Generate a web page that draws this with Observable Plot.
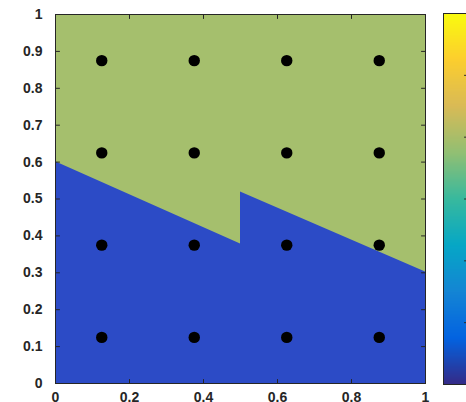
<!DOCTYPE html>
<html><head><meta charset="utf-8">
<script src="https://cdn.jsdelivr.net/npm/d3@7"></script>
<script src="https://cdn.jsdelivr.net/npm/@observablehq/plot@0.6"></script>
<style>
html,body{margin:0;padding:0;overflow:hidden;background:#fff;width:466px;height:402px}
#wrap{position:relative;width:466px;height:402px;overflow:hidden}
#main{position:absolute;left:0;top:0}
#cb{position:absolute;left:443px;top:0;width:40px}
svg{max-width:none !important}
</style></head>
<body><div id="wrap"><div id="main"></div><div id="cb"></div></div>
<script>
// decision boundary (class 1 below, class 2 above)
const boundaryX = [0, 0.5, 0.5, 1];
const boundaryY = [0.601, 0.378, 0.519, 0.302];
// grid of sample points
const pointCoords = [0.125, 0.375, 0.625, 0.875];
// axes
const xTicks = [0, 0.2, 0.4, 0.6, 0.8, 1];
const yTicks = [0, 0.1, 0.2, 0.3, 0.4, 0.5, 0.6, 0.7, 0.8, 0.9, 1];
// colorbar
const cbDomain = [0, 6];
const cbTicks = [1, 2, 3, 4, 5];
const parula = ["#352a87", "#0363e1", "#1485d4", "#06a7c6", "#38b99e", "#92bf73", "#d9ba56", "#fcce2e", "#f9fb0e"];
const colorAbove = "#a5bf6d";
const colorBelow = "#2c4bc6";
const axisColor = "#262626";

const boundary = boundaryX.map((x, i) => ({x, y: boundaryY[i]}));
const points = d3.cross(pointCoords, pointCoords).map(([x, y]) => ({x, y}));

const tickShape = {draw(context, l) { context.moveTo(0, 0); context.lineTo(0, -l); }};
const tickOpts = {length: 4, anchor: "start", shape: tickShape, stroke: axisColor, strokeWidth: 1};

const style = {fontFamily: "'Liberation Sans', Arial, sans-serif", fontSize: "14px", fontWeight: "bold", color: axisColor, background: "transparent", maxWidth: "none"};

const main = Plot.plot({
  width: 466, height: 402,
  marginLeft: 55, marginRight: 41, marginTop: 14, marginBottom: 19,
  style,
  x: {domain: [0, 1]},
  y: {domain: [0, 1]},
  marks: [
    Plot.frame({fill: colorAbove, stroke: null}),
    Plot.areaY(boundary, {x: "x", y1: 0, y2: "y", fill: colorBelow}),
    Plot.dot(points, {x: "x", y: "y", r: 5.7, fill: "black"}),
    Plot.vector(xTicks, {x: d => d, frameAnchor: "bottom", rotate: 0, ...tickOpts}),
    Plot.vector(xTicks, {x: d => d, frameAnchor: "top", rotate: 180, ...tickOpts}),
    Plot.vector(yTicks, {y: d => d, frameAnchor: "left", rotate: 90, ...tickOpts}),
    Plot.vector(yTicks, {y: d => d, frameAnchor: "right", rotate: -90, ...tickOpts}),
    Plot.axisX({ticks: xTicks, tickSize: 0, tickPadding: 9, tickFormat: d => String(d), label: null, fill: axisColor}),
    Plot.axisY({ticks: yTicks, tickSize: 0, tickPadding: 13, tickFormat: d => String(d), label: null, fill: axisColor}),
    Plot.frame({stroke: axisColor, strokeWidth: 1})
  ]
});
document.getElementById("main").appendChild(main);

const cb = Plot.plot({
  width: 26, height: 402,
  marginLeft: 0, marginRight: 1, marginTop: 13, marginBottom: 18,
  style,
  x: {domain: [0, 1], axis: null},
  y: {domain: cbDomain, axis: null},
  color: {type: "linear", domain: cbDomain, interpolate: d3.piecewise(d3.interpolateRgb, parula)},
  marks: [
    Plot.raster({x1: 0, x2: 1, y1: cbDomain[0], y2: cbDomain[1], width: 1, height: 256, fill: (x, y) => y}),
    Plot.vector(cbTicks, {y: d => d, frameAnchor: "right", rotate: -90, ...tickOpts}),
    Plot.frame({stroke: axisColor, strokeWidth: 1})
  ]
});
document.getElementById("cb").appendChild(cb);
</script>
</body></html>
